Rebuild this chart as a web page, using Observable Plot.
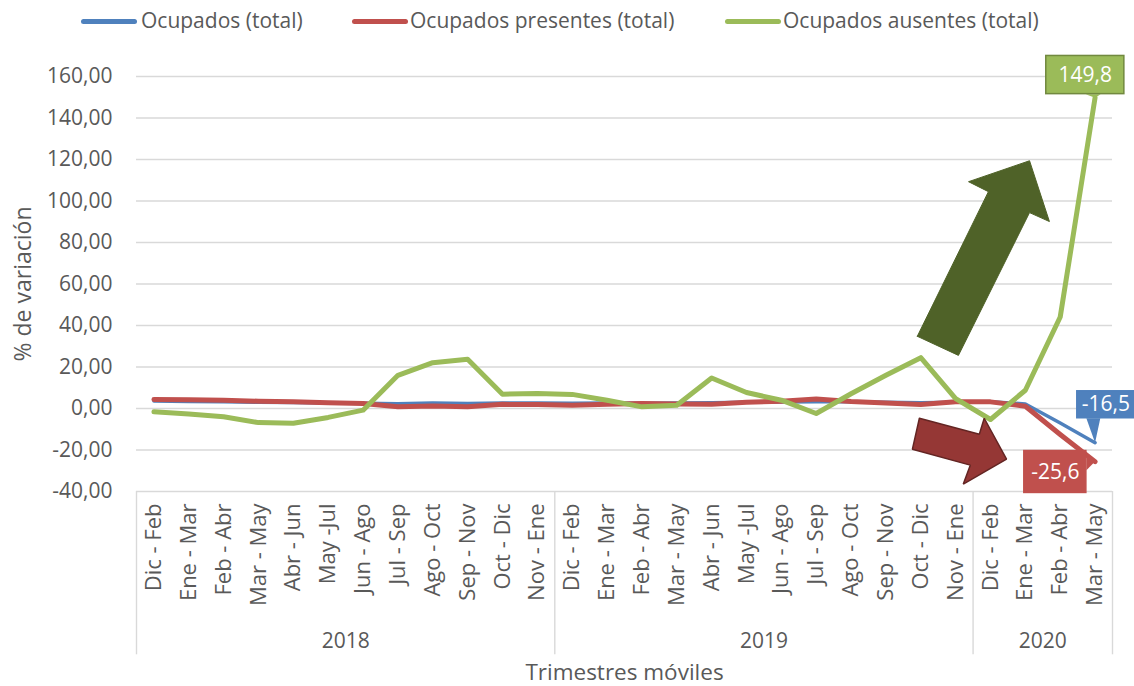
<!DOCTYPE html>
<html>
<head>
<meta charset="utf-8">
<script src="https://cdn.jsdelivr.net/npm/d3@7"></script>
<script src="https://cdn.jsdelivr.net/npm/@observablehq/plot@0.6"></script>
<style>
  html, body { margin: 0; padding: 0; background: #fff; }
  body { width: 1134px; height: 686px; overflow: hidden; font-family: "Open Sans", sans-serif; color: #595959; }
  #legend { position: relative; height: 44px; width: 1134px; }
  .sw { position: absolute; top: 19px; width: 56px; height: 5px; border-radius: 3px; }
  .lt { position: absolute; top: 6px; font-size: 21px; line-height: 28px; white-space: nowrap; }
</style>
</head>
<body>
<div id="legend"></div>
<div id="chart"></div>
<script>
// ---- data ----
const categories = [
  "Dic - Feb","Ene - Mar","Feb - Abr","Mar - May","Abr - Jun","May -Jul","Jun - Ago","Jul - Sep","Ago - Oct","Sep - Nov","Oct - Dic","Nov - Ene",
  "Dic - Feb","Ene - Mar","Feb - Abr","Mar - May","Abr - Jun","May -Jul","Jun - Ago","Jul - Sep","Ago - Oct","Sep - Nov","Oct - Dic","Nov - Ene",
  "Dic - Feb","Ene - Mar","Feb - Abr","Mar - May"
];
const years = ["2018", "2019", "2020"];
const yearCounts = [12, 12, 4];
const seriesNames = ["Ocupados (total)", "Ocupados presentes (total)", "Ocupados ausentes (total)"];
const ocupados = [3.6,3.4,3.2,3.0,2.9,2.7,2.5,2.3,2.6,2.4,2.6,2.6, 2.5,2.6,2.5,2.6,2.8,3.0,3.1,3.3,3.2,3.0,2.8,3.0, 3.3,2.2,-7.0,-16.5];
const presentes = [4.3,4.2,4.0,3.5,3.2,2.8,2.4,0.8,1.2,0.8,2.0,1.9, 1.6,2.1,2.4,2.2,2.1,3.0,3.5,4.6,3.4,2.7,1.9,3.2, 3.2,1.1,-12.5,-25.6];
const ausentes = [-1.6,-2.6,-4.0,-6.8,-7.1,-4.3,-0.8,16.0,22.1,23.7,6.9,7.2, 6.8,4.0,0.8,1.6,14.7,7.7,4.0,-2.4,7.1,16.0,24.5,4.8, -5.3,8.8,44.1,149.8];
const yTicks = [-40,-20,0,20,40,60,80,100,120,140,160];
const colors = ["#4F81BD", "#C0504D", "#9BBB59"];

// ---- helpers ----
const fmt = v => v.toFixed(2).replace(".", ",");
const fmt1 = v => v.toFixed(1).replace(".", ",");
const toRows = (arr, name) => arr.map((v, i) => ({i, v, name}));
const last = categories.length - 1;

// year separators and centres derived from counts
const bounds = [-0.5];
yearCounts.forEach(c => bounds.push(bounds[bounds.length - 1] + c));
const yearCentres = years.map((y, k) => ({year: y, x: (bounds[k] + bounds[k + 1]) / 2}));

// annotation shapes in data space (category index, value)
const upArrow = [
  {x: 21.90, y: 34.8}, {x: 23.94, y: 104.5}, {x: 23.37, y: 109.3}, {x: 25.12, y: 119.4},
  {x: 25.69, y: 90.1}, {x: 25.12, y: 94.4}, {x: 23.08, y: 25.6}, {x: 21.90, y: 34.8}
];
const downArrow = [
  {x: 21.96, y: -4.7}, {x: 23.68, y: -12.4}, {x: 23.82, y: -4.7}, {x: 24.46, y: -24.4},
  {x: 23.22, y: -36.4}, {x: 23.42, y: -27.3}, {x: 21.76, y: -19.6}, {x: 21.96, y: -4.7}
];

const labels = [
  {x1: 25.60, x2: 27.84, y1: 151.5, y2: 169.9, fill: "#9BBB59", stroke: "#71893F", v: ausentes[last]},
  {x1: 26.49, x2: 28.13, y1: -4.7, y2: 8.3, fill: "#4F81BD", stroke: "#4F81BD", v: ocupados[last]},
  {x1: 24.97, x2: 26.75, y1: -40.7, y2: -20.5, fill: "#C0504D", stroke: "#C0504D", v: presentes[last]}
];
const pointers = [
  [{x: 26.73, y: 151.5}, {x: last, y: ausentes[last]}, {x: 27.16, y: 151.5}],
  [{x: 26.75, y: -4.7}, {x: last, y: ocupados[last]}, {x: 27.15, y: -4.7}],
  [{x: 26.75, y: -22.5}, {x: last, y: presentes[last]}, {x: 26.75, y: -29.7}]
];

// ---- legend ----
const legend = document.getElementById("legend");
const legPos = [[81, 141], [352, 410], [725, 783]];
seriesNames.forEach((n, k) => {
  const s = document.createElement("div");
  s.className = "sw"; s.style.left = legPos[k][0] + "px"; s.style.background = colors[k];
  legend.appendChild(s);
  const t = document.createElement("div");
  t.className = "lt"; t.style.left = legPos[k][1] + "px"; t.textContent = n;
  legend.appendChild(t);
});

// ---- chart ----
const chart = Plot.plot({
  width: 1134,
  height: 642,
  marginTop: 32,
  marginBottom: 195,
  marginLeft: 136,
  marginRight: 22,
  style: {fontFamily: "'Open Sans', sans-serif", fontSize: "21px", color: "#595959", background: "#fff"},
  x: {domain: [-0.5, last + 0.5], ticks: d3.range(categories.length), tickFormat: i => categories[i], tickRotate: -90, tickSize: 0, tickPadding: 12, label: null},
  y: {domain: [-40, 160], ticks: yTicks, tickFormat: fmt, tickSize: 0, tickPadding: 24, label: null},
  marks: [
    Plot.ruleY(yTicks, {stroke: "#D9D9D9", strokeWidth: 1.4}),
    Plot.ruleX(bounds, {x: d => d, y1: -40, y2: -118.7, stroke: "#D9D9D9", strokeWidth: 1.4, clip: false}),
    Plot.text(yearCentres, {x: "x", y: -112.4, text: "year", fill: "#595959", fontSize: 21}),
    Plot.text(["Trimestres móviles"], {x: (last) / 2, y: -127.6, text: d => d, fill: "#595959", fontSize: 22.5}),
    Plot.text(["% de variación"], {frameAnchor: "left", dx: -113, rotate: -90, textAnchor: "middle", text: d => d, fill: "#595959", fontSize: 23}),
    Plot.line(toRows(ocupados, seriesNames[0]), {x: "i", y: "v", stroke: colors[0], strokeWidth: 3.5, strokeLinejoin: "round"}),
    Plot.line(toRows(presentes, seriesNames[1]), {x: "i", y: "v", stroke: colors[1], strokeWidth: 5, strokeLinejoin: "round"}),
    Plot.line(toRows(ausentes, seriesNames[2]), {x: "i", y: "v", stroke: colors[2], strokeWidth: 5, strokeLinejoin: "round"}),
    Plot.line(upArrow, {x: "x", y: "y", fill: "#4F6228", stroke: "#4F6228", strokeWidth: 1, strokeLinejoin: "miter"}),
    Plot.line(downArrow, {x: "x", y: "y", fill: "#953735", stroke: "#632523", strokeWidth: 1.5, strokeLinejoin: "miter"}),
    ...pointers.map((p, k) => Plot.line(p, {x: "x", y: "y", fill: labels[k].fill, stroke: "none", clip: false})),
    Plot.rect(labels, {x1: "x1", x2: "x2", y1: "y1", y2: "y2", fill: "fill", stroke: "stroke", strokeWidth: 1.5, clip: false}),
    Plot.text(labels, {x: d => (d.x1 + d.x2) / 2, y: d => (d.y1 + d.y2) / 2, text: d => fmt1(d.v), fill: "#fff", fontSize: 21})
  ]
});
chart.querySelectorAll("g[aria-label='x-axis tick label'] text").forEach(t => t.style.fontSize = "22px");
document.getElementById("chart").appendChild(chart);
</script>
</body>
</html>
